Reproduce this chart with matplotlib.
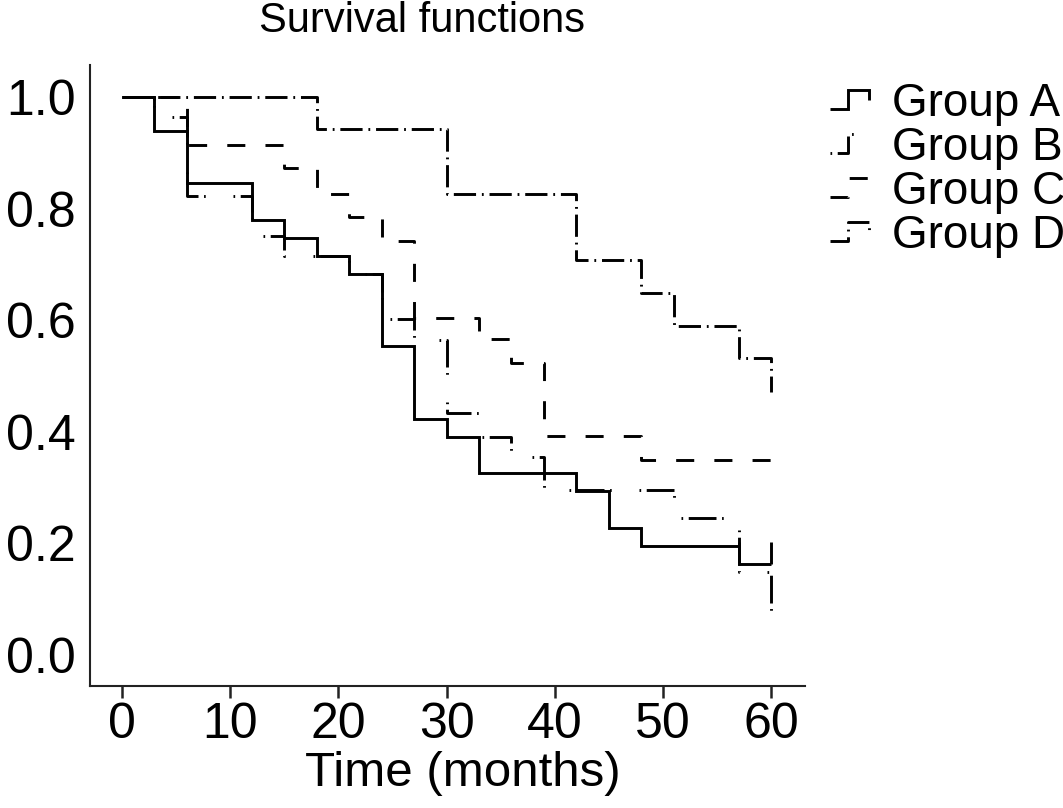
import numpy as np
import matplotlib
matplotlib.use("Agg")
import matplotlib.pyplot as plt
from matplotlib.lines import Line2D
from matplotlib.legend_handler import HandlerBase
from matplotlib.path import Path

plt.rcParams['font.family'] = ['Liberation Sans', 'DejaVu Sans']
plt.rcParams['lines.scale_dashes'] = False

# ---- data (time in months, survival proportion after each step) ----
groups = ["Group A", "Group B", "Group C", "Group D"]

a_times = [0, 3, 6, 12, 15, 18, 21, 24, 27, 30, 33, 42, 45, 48, 57, 60]
a_surv = [1.0, 0.939, 0.845, 0.780, 0.747, 0.715, 0.683, 0.553, 0.423, 0.391,
          0.326, 0.294, 0.227, 0.195, 0.163, 0.163]
a_cens_t = [57, 60]
a_cens_s = [0.163, 0.163]

b_times = [0, 3, 6, 12, 15, 21, 24, 27, 30, 33, 36, 39, 51, 57, 60]
b_surv = [1.0, 0.965, 0.823, 0.751, 0.715, 0.683, 0.602, 0.565, 0.434, 0.390,
          0.354, 0.296, 0.245, 0.149, 0.050]

c_times = [0, 6, 15, 18, 21, 24, 27, 33, 36, 39, 48, 60]
c_surv = [1.0, 0.914, 0.872, 0.827, 0.785, 0.741, 0.604, 0.566, 0.523, 0.392,
          0.349, 0.349]

d_times = [0, 18, 30, 42, 48, 51, 57, 60]
d_surv = [1.0, 0.943, 0.826, 0.708, 0.648, 0.590, 0.532, 0.471]

x_ticks = [0, 10, 20, 30, 40, 50, 60]
y_ticks = [0.0, 0.2, 0.4, 0.6, 0.8, 1.0]

# ---- figure ----
fig = plt.figure(figsize=(10.63, 8.08), dpi=100)
ax = fig.add_axes([90 / 1063, 1 - 686 / 808, (805 - 90) / 1063, (686 - 65) / 808])

lw = 2.1
col = "black"
styles = {
    "Group A": dict(linestyle="-"),
    "Group B": dict(linestyle=(0, (1.2, 4, 20, 4, 1.2, 20))),
    "Group C": dict(linestyle=(0, (13, 14.5))),
    "Group D": dict(linestyle=(0, (16, 4.2, 1.3, 4.2))),
}

series = [(d_times, d_surv, "Group D"), (c_times, c_surv, "Group C"),
          (b_times, b_surv, "Group B"), (a_times, a_surv, "Group A")]
handles = {}
for t, s, name in series:
    ln, = ax.step(t, s, where="post", color=col, lw=lw, label=name,
                  dash_capstyle="butt", solid_capstyle="butt",
                  solid_joinstyle="miter", **styles[name])
    handles[name] = ln

# censor marks (upward ticks) for Group A
up_tick = Path([(0, 0), (0, 1)], [Path.MOVETO, Path.LINETO])
ax.plot(a_cens_t, a_cens_s, linestyle="none", marker=up_tick, markersize=32,
        markeredgewidth=lw, color=col)

ax.set_xlim(-2.96, 63.14)
ax.set_ylim(-0.0556, 1.0573)
ax.set_xticks(x_ticks)
ax.set_xticklabels([str(v) for v in x_ticks])
ax.set_yticks(y_ticks)
ax.set_yticklabels([f"{v:.1f}" for v in y_ticks])

for sp in ["top", "right"]:
    ax.spines[sp].set_visible(False)
for sp in ["left", "bottom"]:
    ax.spines[sp].set_linewidth(1.5)
    ax.spines[sp].set_color("#222222")

ax.tick_params(axis="x", direction="out", length=8.6, width=1.8, pad=3,
               labelsize=36, color="#222222")
ax.tick_params(axis="y", length=0, pad=10, labelsize=36)


class StepHandler(HandlerBase):
    def create_artists(self, legend, orig_handle, xdescent, ydescent,
                       width, height, fontsize, trans):
        xs = np.array([0, 0.47, 0.47, 1.0, 1.0]) * width - xdescent
        ys = np.array([0.05, 0.05, 0.95, 0.95, 0.5]) * height - ydescent
        line = Line2D(xs, ys)
        line.update_from(orig_handle)
        line.set_clip_on(False)
        line.set_clip_box(None)
        line.set_clip_path(None)
        line.set_transform(trans)
        return [line]


leg = fig.legend([handles[g] for g in groups], groups,
                 handler_map={Line2D: StepHandler()},
                 loc="upper left", bbox_to_anchor=(830 / 1063, 1 - 82 / 808),
                 frameon=False, fontsize=33, handlelength=0.85,
                 handleheight=0.3, handletextpad=0.5, labelspacing=0.0,
                 borderpad=0, borderaxespad=0)

fig.text(422 / 1063, 1 - 21 / 808, "Survival functions", ha="center",
         va="center", fontsize=30)
fig.text(463 / 1063, 1 - 773 / 808, "Time (months)", ha="center",
         va="center", fontsize=35.5)

fig.savefig("out.png", dpi=100, facecolor="white")
